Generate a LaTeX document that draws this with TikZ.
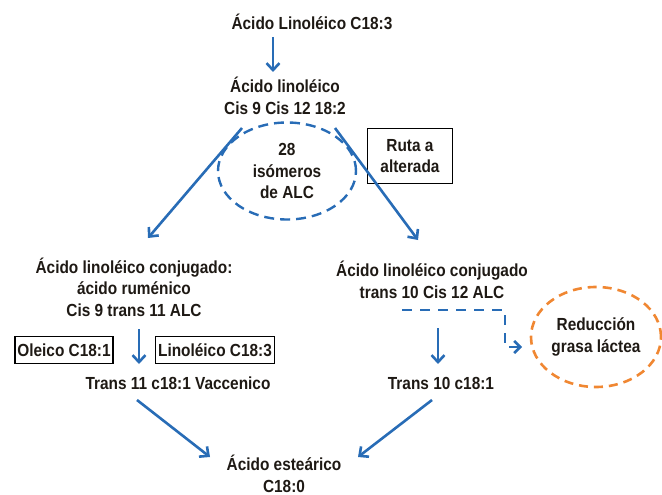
\documentclass[tikz,border=0pt]{standalone}
\usepackage{fontspec}
\setmainfont{Liberation Sans}[FakeStretch=0.88]
\usetikzlibrary{arrows.meta,shapes.geometric}
\definecolor{arrowblue}{RGB}{40,108,182}
\definecolor{dashorange}{RGB}{240,135,50}
\definecolor{txt}{RGB}{30,25,20}
\begin{document}
\begin{tikzpicture}[x=1pt,y=-1pt,
  lbl/.style={font=\bfseries\fontsize{17.5}{21.5}\selectfont, text=txt, align=center, inner sep=1pt},
  boxed/.style={lbl, draw=black, line width=1.8pt, inner sep=2.5pt},
  flow/.style={draw=arrowblue, line width=2.6pt, -{Straight Barb[length=7pt,width=13pt]}},
  dflow/.style={draw=arrowblue, line width=2.6pt, dash pattern=on 10pt off 8pt, -{Straight Barb[length=6pt,width=12pt]}},
]
\useasboundingbox (0,0) rectangle (662,495);
\node[lbl] (top) at (312,22) {Ácido Linoléico C18:3};
\node[lbl] (la) at (285,96) {Ácido linoléico\\Cis 9 Cis 12 18:2};
\node[lbl, draw=arrowblue, dash pattern=on 10pt off 6pt, line width=2.4pt, ellipse, minimum width=138pt, minimum height=97pt, inner sep=0pt] (iso) at (287,171) {28\\isómeros\\de ALC};
\node[boxed, minimum width=85pt, minimum height=55pt] (ruta) at (410,156) {Ruta a\\alterada};
\node[lbl] (cla1) at (134,287) {Ácido linoléico conjugado:\\ácido ruménico\\Cis 9 trans 11 ALC};
\node[lbl] (cla2) at (432,280) {Ácido linoléico conjugado\\trans 10 Cis 12 ALC};
\node[boxed, minimum height=27pt] (ole) at (64,350) {Oleico C18:1};
\node[boxed, minimum height=27pt] (lin) at (215,350) {Linoléico C18:3};
\node[lbl] (vac) at (178,383) {Trans 11 c18:1 Vaccenico};
\node[lbl] (t10) at (441,383) {Trans 10 c18:1};
\node[lbl, draw=dashorange, dash pattern=on 9pt off 6pt, line width=2.6pt, ellipse, minimum width=130pt, minimum height=100pt, inner sep=0pt] (red) at (596,337) {Reducción\\grasa láctea};
\node[lbl] (est) at (284,474) {Ácido esteárico\\C18:0};
% connectors
\coordinate (a1) at (273,37); \coordinate (a2) at (273,72);
\draw[flow] (a1) -- (a2);
\draw[flow] (242,128) -- (148,238);
\draw[flow] (335,128) -- (418,240);
\draw[flow] (139,329) -- (139,364);
\draw[flow] (438,328) -- (438,364);
\draw[dflow] (402,310) -| (505,347) -- (522,347);
\draw[flow] (137,400) -- (210,457);
\draw[flow] (432,400) -- (358,457);
\end{tikzpicture}
\end{document}
